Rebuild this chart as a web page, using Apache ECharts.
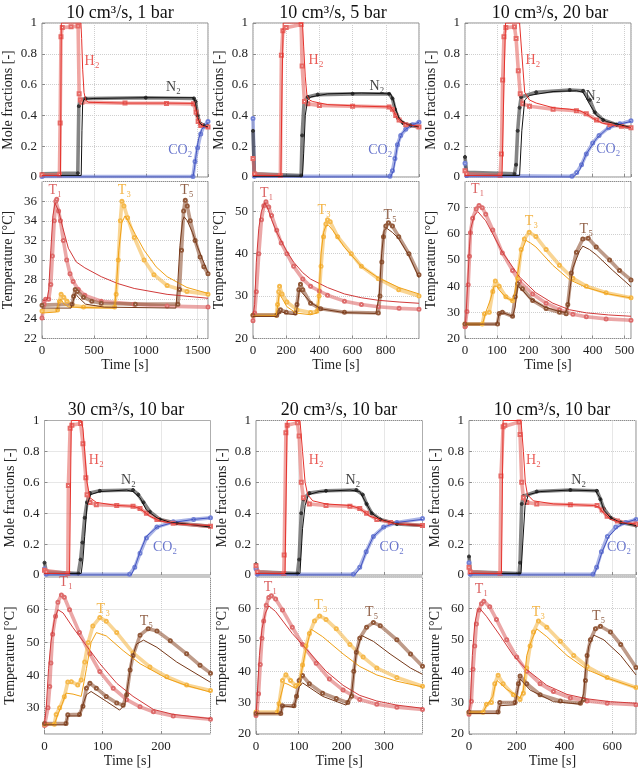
<!DOCTYPE html>
<html>
<head>
<meta charset="utf-8">
<script src="https://cdn.jsdelivr.net/npm/echarts@6/dist/echarts.min.js"></script>
<style>
  html, body { margin: 0; padding: 0; background: #fff; }
  #chart { width: 638px; height: 769px; }
</style>
</head>
<body>
<div id="chart"></div>
<script>
// ---- panel 1: 10 cm3/s, 1 bar ----
const p1_h2_mod = [[0,0.01],[178,0.01],[186,1],[375,1],[382,0.9],[392,0.7],[405,0.55],[420,0.5],[450,0.485],[800,0.48],[1200,0.48],[1460,0.478],[1480,0.45],[1500,0.38],[1520,0.34],[1550,0.33],[1600,0.32]];
const p1_h2_exp = [[0,0.015],[168,0.015],[175,0.35],[183,0.91],[195,0.97],[280,0.975],[348,0.98],[358,0.54],[368,0.5],[385,0.485],[800,0.48],[1200,0.478],[1460,0.475],[1485,0.42],[1505,0.36],[1530,0.335],[1600,0.325]];
const p1_n2_mod = [[0,0.01],[378,0.01],[385,0.3],[392,0.48],[405,0.505],[500,0.51],[1000,0.515],[1460,0.515],[1480,0.48],[1500,0.39],[1520,0.35],[1550,0.335],[1600,0.325]];
const p1_n2_exp = [[0,0.02],[345,0.025],[355,0.46],[368,0.5],[420,0.51],[1000,0.515],[1465,0.51],[1480,0.49],[1500,0.4],[1520,0.35],[1560,0.335],[1600,0.33]];
const p1_co2_mod = [[0,0],[1455,0],[1470,0.06],[1490,0.17],[1510,0.25],[1540,0.31],[1575,0.34],[1600,0.35]];
const p1_co2_exp = [[0,0.003],[1455,0.003],[1475,0.1],[1500,0.19],[1530,0.28],[1560,0.33],[1600,0.36]];
const p1_t1_mod = [[0,25.8],[50,26],[65,27],[85,31],[105,34.5],[125,35.8],[137,36],[160,35],[200,33.3],[254,31.2],[330,29.8],[413,29.2],[571,28.3],[730,27.6],[889,27.1],[1206,26.5],[1600,26.1]];
const p1_t1_exp = [[0,24.1],[20,25.5],[35,26],[65,26],[85,27.5],[100,30.4],[118,34],[133,36],[142,36.2],[160,35],[178,34],[206,32],[238,30],[270,28.6],[300,27.8],[350,27],[413,26.4],[571,25.8],[889,25.5],[1206,25.3],[1600,25.2]];
const p1_t3_mod = [[0,24.6],[140,24.7],[165,25.8],[185,26],[210,25.5],[260,25.2],[700,25.1],[715,27],[740,31],[770,33.8],[800,34.5],[830,34],[900,32.6],[984,31],[1100,29.3],[1206,28.3],[1397,27.2],[1600,26.6]];
const p1_t3_exp = [[0,24.8],[150,24.9],[168,25.8],[184,26.5],[210,26.2],[240,25.8],[286,25.4],[400,25.2],[700,25.2],[715,26.5],[735,30],[755,34],[770,36],[790,35.5],[825,34.3],[889,32.3],[984,30],[1079,28.5],[1206,27.4],[1397,26.8],[1600,26.5]];
const p1_t5_mod = [[0,25.1],[280,25.1],[300,25.8],[320,26.6],[350,26.2],[420,25.5],[600,25.2],[1290,25.1],[1305,27],[1330,31.5],[1355,34],[1370,34.4],[1400,34],[1450,32.8],[1500,31.3],[1550,30],[1600,28.7]];
const p1_t5_exp = [[0,25.4],[290,25.5],[305,26.3],[320,27],[340,26.8],[400,26.2],[480,25.8],[571,25.6],[900,25.5],[1310,25.5],[1325,27],[1345,31],[1365,35],[1381,36.1],[1400,35.5],[1429,34],[1476,32],[1524,30.3],[1560,29.3],[1600,28.6]];

// ---- panel 2: 10 cm3/s, 5 bar ----
const p2_h2_mod = [[0,0.01],[168,0.01],[175,0.6],[182,1],[298,1],[305,0.85],[315,0.65],[325,0.53],[340,0.5],[360,0.49],[451,0.47],[655,0.46],[829,0.455],[845,0.43],[865,0.39],[890,0.36],[930,0.34],[1000,0.33]];
const p2_h2_exp = [[0,0.12],[10,0.02],[165,0.01],[171,0.79],[180,0.95],[200,0.97],[290,0.99],[296,0.72],[310,0.49],[330,0.475],[400,0.465],[600,0.46],[820,0.455],[840,0.44],[860,0.4],[880,0.37],[920,0.34],[1000,0.325]];
const p2_n2_mod = [[0,0.005],[298,0.005],[305,0.15],[315,0.4],[329,0.5],[349,0.52],[450,0.54],[655,0.545],[829,0.54],[845,0.5],[860,0.44],[880,0.38],[910,0.35],[950,0.335],[1000,0.325]];
const p2_n2_exp = [[0,0.3],[8,0.02],[290,0.01],[296,0.27],[308,0.49],[330,0.52],[390,0.535],[600,0.54],[820,0.54],[840,0.51],[855,0.44],[875,0.38],[905,0.35],[950,0.335],[1000,0.325]];
const p2_co2_mod = [[0,0],[829,0],[845,0.04],[855,0.1],[869,0.2],[895,0.28],[920,0.31],[961,0.34],[1000,0.355]];
const p2_co2_exp = [[0,0.38],[8,0.005],[825,0.005],[840,0.04],[855,0.12],[870,0.21],[890,0.27],[920,0.31],[960,0.34],[1000,0.355]];
const p2_t1_mod = [[0,25],[10,28],[20,38],[35,46],[51,50],[71,52],[90,50.5],[112,48],[143,45],[204,40.5],[245,38],[300,35.5],[347,34],[449,32],[551,30.5],[653,29.6],[755,29],[880,28.6],[1000,28.3]];
const p2_t1_exp = [[0,24.2],[10,26],[20,31],[35,40],[51,48],[65,51.3],[78,52.2],[95,51],[112,49],[143,45.5],[170,42.5],[204,40],[245,37],[300,34],[347,32.3],[400,31.2],[449,30.2],[551,28.8],[653,28],[755,27.5],[880,27.1],[1000,26.9]];
const p2_t3_mod = [[0,25.3],[140,25.4],[150,28],[158,30.5],[175,29.5],[204,27.5],[260,26],[347,25.6],[385,26],[398,30],[410,40],[425,45],[439,46.5],[455,46.7],[480,45.5],[551,41.5],[653,37],[755,34.3],[880,32],[1000,30.5]];
const p2_t3_exp = [[0,25.5],[140,25.5],[148,28],[155,31],[160,32.3],[175,30.5],[204,28.6],[265,26.8],[347,26.1],[385,26.4],[398,30],[410,37],[425,44],[439,47],[449,48],[465,47.5],[510,44],[592,40],[653,37],[755,34.1],[878,31.5],[1000,30]];
const p2_t5_mod = [[0,25.2],[140,25.2],[155,26],[170,26.3],[210,25.8],[260,25.6],[268,28],[280,31.5],[290,31.8],[347,28.5],[408,27],[551,26.1],[740,25.9],[760,30],[775,40],[790,45.5],[805,46],[840,45],[878,43.5],[940,39.5],[1000,34.3]];
const p2_t5_exp = [[0,25.5],[143,25.5],[158,26.3],[165,26.8],[200,26.2],[255,26],[265,28],[276,31.5],[286,32.8],[300,31.5],[347,28.3],[408,27],[551,26.2],[755,26],[765,30],[776,38],[786,44],[800,46.5],[816,47.3],[840,46.5],[878,44],[939,40],[1000,35]];

// ---- panel 3: 10 cm3/s, 20 bar ----
const p3_h2_mod = [[0,0.01],[116,0.01],[122,0.6],[127,1],[171,1],[178,0.8],[187,0.55],[202,0.5],[223,0.48],[276,0.45],[328,0.44],[360,0.43],[380,0.41],[401,0.38],[430,0.35],[454,0.34],[485,0.33],[520,0.32]];
const p3_h2_exp = [[0,0.04],[5,0.02],[110,0.01],[114,0.15],[118,0.63],[122,0.91],[128,0.97],[155,0.975],[160,0.9],[167,0.69],[173,0.54],[181,0.475],[202,0.46],[276,0.44],[349,0.43],[380,0.41],[412,0.37],[454,0.34],[490,0.33],[520,0.32]];
const p3_n2_mod = [[0,0.01],[171,0.01],[178,0.3],[187,0.5],[202,0.53],[276,0.555],[349,0.56],[370,0.55],[391,0.47],[412,0.4],[443,0.36],[485,0.34],[520,0.32]];
const p3_n2_exp = [[0,0.13],[5,0.03],[155,0.02],[160,0.08],[165,0.3],[171,0.45],[176,0.52],[223,0.55],[328,0.565],[370,0.56],[391,0.5],[407,0.42],[433,0.37],[475,0.34],[520,0.32]];
const p3_co2_mod = [[0,0],[339,0],[350,0.02],[360,0.05],[380,0.15],[412,0.25],[443,0.31],[475,0.34],[520,0.36]];
const p3_co2_exp = [[0,0.09],[5,0.01],[335,0.005],[350,0.03],[365,0.08],[380,0.15],[400,0.22],[420,0.27],[450,0.32],[485,0.345],[520,0.365]];
const p3_t1_mod = [[0,25],[2,26],[8,40],[14,55],[18,62],[29,67],[40,68.5],[65,65],[117,53],[171,43.5],[222,37.5],[275,33.5],[327,31],[380,29.8],[450,29],[520,28.5]];
const p3_t1_exp = [[0,24.5],[2,25],[6,30.3],[10,40.5],[14,51.4],[17,60.4],[24,66],[35,69.5],[44,70.8],[54,70],[65,67.5],[87,61.5],[117,52.7],[149,46],[171,41.8],[212,37],[254,33.5],[296,31],[338,29.3],[380,28.3],[442,27.5],[520,27]];
const p3_t3_mod = [[0,25.5],[55,25.5],[65,30],[80,35],[91,40],[100,40],[107,38.5],[130,35.5],[149,34.5],[158,38],[165,45],[176,53],[191,57.5],[205,56.5],[222,55],[275,48],[327,42.5],[380,39.5],[450,37],[520,35.5]];
const p3_t3_exp = [[0,25.5],[54,25.5],[61,29.5],[76,30],[87,38],[95,42],[107,40],[128,36],[149,34.4],[157,36],[165,43],[176,54],[186,58],[201,60.6],[222,59],[254,54],[296,48],[338,43],[380,40],[442,37.5],[520,35.6]];
const p3_t5_mod = [[0,25.5],[100,25.5],[107,29.5],[120,29.8],[149,28.5],[157,32],[165,40],[180,38.5],[201,35.5],[250,32],[296,30.3],[315,30],[322,32],[330,40],[338,47],[359,53.5],[369,55.3],[390,54],[411,52],[463,46],[520,39.8]];
const p3_t5_exp = [[0,25.5],[102,25.5],[107,29.6],[117,30],[149,28.5],[157,36],[165,40.9],[180,39],[212,34.5],[254,31.5],[296,30],[317,29.5],[322,33],[333,45],[349,53],[369,58],[386,58.3],[411,55],[453,50],[484,46],[520,42.4]];

// ---- panel 4: 30 cm3/s, 10 bar ----
const p4_h2_mod = [[0,0.01],[43,0.01],[46,1],[63,1],[66,0.95],[69,0.8],[73,0.6],[78,0.5],[89,0.47],[124,0.45],[152,0.445],[164,0.43],[181,0.38],[198,0.35],[227,0.33],[285,0.32]];
const p4_h2_exp = [[0,0.03],[3,0.02],[40,0.01],[41,0.58],[44,0.95],[47,0.97],[62,0.98],[66,0.85],[71,0.63],[73,0.52],[78,0.47],[89,0.455],[124,0.45],[152,0.445],[164,0.43],[175,0.4],[193,0.36],[221,0.335],[285,0.315]];
const p4_n2_mod = [[0,0.01],[63,0.01],[66,0.1],[69,0.25],[73,0.45],[79,0.52],[95,0.54],[141,0.55],[152,0.54],[164,0.5],[175,0.42],[193,0.37],[216,0.34],[244,0.33],[285,0.31]];
const p4_n2_exp = [[0,0.08],[3,0.02],[58,0.01],[62,0.1],[65,0.21],[69,0.37],[73,0.47],[78,0.53],[95,0.545],[152,0.55],[161,0.52],[170,0.47],[181,0.41],[198,0.36],[227,0.335],[285,0.315]];
const p4_co2_mod = [[0,0],[149,0],[155,0.05],[164,0.15],[175,0.25],[193,0.31],[221,0.34],[256,0.36],[285,0.37]];
const p4_co2_exp = [[0,0.04],[3,0.005],[146,0.005],[155,0.05],[164,0.14],[175,0.24],[193,0.31],[221,0.345],[256,0.36],[285,0.37]];
const p4_t1_mod = [[0,25],[3,30],[7,42],[11,50],[17,57],[23,60],[32,59],[49,54.5],[72,49],[95,43.5],[124,37.5],[152,33.5],[187,29.5],[221,28],[285,26.7]];
const p4_t1_exp = [[0,24.6],[3,25],[6,30],[9,36.5],[11,43.7],[14,52.5],[19,58],[23,62.3],[29,64.5],[34,63.8],[43,60],[60,53],[78,46.5],[95,41.1],[118,36],[141,32.5],[164,30.3],[187,28.8],[221,27.5],[285,26.5]];
const p4_t3_mod = [[0,25],[17,25],[23,28],[30,31],[37,34.5],[49,34.2],[63,33.5],[68,38],[72,42],[80,50],[89,53],[106,52],[135,47.5],[164,43.5],[210,39],[244,36.8],[285,34.8]];
const p4_t3_exp = [[0,25],[17,25],[20,28],[26,30],[34,33.4],[40,37.9],[46,38],[57,37],[63,38.5],[69,44],[75,50],[83,55],[95,57.6],[106,56.5],[124,53],[152,46.8],[181,42.5],[210,39.5],[244,37],[285,35.3]];
const p4_t5_mod = [[0,24.8],[37,24.8],[40,27.5],[60,27.5],[66,31],[72,34],[80,35],[106,32],[129,29.3],[138,31],[144,38],[150,45],[158,49.5],[170,50.7],[193,48.5],[227,44],[285,37.8]];
const p4_t5_exp = [[0,25.2],[37,25.2],[40,27.9],[60,28],[66,30.5],[72,36],[78,37.5],[89,36],[106,33.5],[124,31.5],[135,30.8],[141,34],[147,41.6],[152,46],[164,52.2],[178,54.2],[193,53.5],[216,50.5],[244,46.5],[267,43],[285,40.6]];

// ---- panel 5: 20 cm3/s, 10 bar ----
const p5_h2_mod = [[0,0.01],[68,0.01],[73,1],[103,1],[109,0.8],[115,0.6],[121,0.52],[133,0.48],[164,0.46],[220,0.45],[243,0.43],[267,0.38],[299,0.35],[330,0.33],[390,0.32]];
const p5_h2_exp = [[0,0.06],[3,0.02],[65,0.01],[66,0.13],[70,0.92],[73,0.97],[97,0.985],[101,0.9],[106,0.6],[111,0.5],[125,0.46],[164,0.45],[220,0.445],[243,0.43],[259,0.4],[283,0.36],[315,0.34],[390,0.32]];
const p5_n2_mod = [[0,0.01],[103,0.01],[109,0.3],[115,0.45],[123,0.52],[148,0.54],[220,0.55],[243,0.54],[255,0.48],[271,0.4],[291,0.36],[330,0.33],[390,0.32]];
const p5_n2_exp = [[0,0.07],[3,0.02],[97,0.01],[101,0.1],[106,0.4],[111,0.49],[125,0.53],[164,0.545],[235,0.55],[250,0.52],[259,0.46],[271,0.4],[291,0.36],[330,0.33],[390,0.32]];
const p5_co2_mod = [[0,0],[231,0],[245,0.05],[258,0.15],[275,0.25],[299,0.31],[330,0.34],[390,0.36]];
const p5_co2_exp = [[0,0.04],[3,0.005],[228,0.005],[243,0.05],[258,0.15],[275,0.25],[299,0.31],[330,0.34],[390,0.365]];
const p5_t1_mod = [[0,26],[2,30],[8,45],[14,53.5],[22,58.5],[30,60.8],[46,59],[85,52],[125,46],[164,40],[204,35.5],[243,32.3],[283,30.5],[330,29.2],[390,28.2]];
const p5_t1_exp = [[0,25.9],[2,27],[6,32.8],[10,42.1],[14,50.5],[18,56],[24,61],[30,63.5],[36,64],[46,63],[62,59.5],[85,54],[109,48.5],[141,42.5],[172,37.5],[204,34],[243,31],[283,29.5],[330,28.5],[390,27.8]];
const p5_t3_mod = [[0,26.5],[50,26.5],[54,30],[66,36.3],[75,35.8],[93,34.5],[101,36],[117,47],[129,53.4],[156,51],[204,45.5],[243,41.5],[283,38.8],[330,36.8],[390,35]];
const p5_t3_exp = [[0,27],[50,27],[54,29.6],[62,37],[70,38.9],[81,37],[93,35.4],[101,36],[109,42],[117,48],[125,52],[137,56],[149,57.6],[164,56.5],[188,53.5],[220,48.5],[251,44.5],[283,41],[330,38],[390,35.2]];
const p5_t5_mod = [[0,26.5],[58,26.5],[62,29],[89,28.5],[101,35],[109,36.3],[156,32],[211,29.2],[224,33],[235,46],[247,51.4],[275,49.5],[314,45.5],[362,41],[390,39]];
const p5_t5_exp = [[0,26.5],[58,26.5],[62,29],[89,29],[95,32],[101,37],[109,38.6],[125,36],[156,33],[188,31.3],[215,30],[224,32],[229,40],[235,46],[243,50.5],[259,54],[275,55.5],[291,54.5],[330,50],[362,45.5],[390,41.6]];

// ---- panel 6: 10 cm3/s, 10 bar ----
const p6_h2_mod = [[0,0.01],[136,0.01],[143,1],[218,1],[228,0.8],[236,0.6],[245,0.52],[270,0.48],[354,0.46],[523,0.45],[544,0.44],[565,0.4],[594,0.36],[636,0.34],[700,0.33]];
const p6_h2_exp = [[0,0.05],[5,0.02],[130,0.01],[134,0.64],[143,0.96],[150,0.97],[210,0.99],[214,0.91],[221,0.6],[228,0.5],[242,0.47],[284,0.46],[425,0.455],[537,0.45],[558,0.42],[579,0.38],[622,0.35],[700,0.33]];
const p6_n2_mod = [[0,0.01],[218,0.01],[225,0.2],[235,0.45],[249,0.52],[298,0.54],[425,0.55],[530,0.545],[549,0.5],[565,0.42],[594,0.37],[636,0.34],[700,0.32]];
const p6_n2_exp = [[0,0.12],[5,0.02],[210,0.01],[214,0.08],[221,0.46],[228,0.51],[284,0.54],[425,0.55],[536,0.545],[551,0.49],[565,0.43],[594,0.37],[636,0.34],[700,0.32]];
const p6_co2_mod = [[0,0],[523,0],[537,0.05],[558,0.15],[586,0.25],[622,0.31],[657,0.34],[700,0.36]];
const p6_co2_exp = [[0,0.08],[5,0.005],[520,0.005],[535,0.05],[555,0.15],[580,0.25],[615,0.31],[657,0.34],[700,0.36]];
const p6_t1_mod = [[0,26.5],[6,30],[14,45],[24,55],[34,59],[45,60],[73,57.5],[129,51.5],[186,45],[242,40.5],[326,35.5],[411,32.6],[495,31.2],[593,30.3],[700,29.8]];
const p6_t1_exp = [[0,26.3],[10,30.4],[17,40.6],[24,48],[31,55],[42,59.5],[52,61.5],[62,62.3],[87,60.5],[115,56.5],[158,50],[200,44.5],[242,40],[298,36],[354,33.5],[425,31.5],[495,30.5],[579,29.8],[700,29.3]];
const p6_t3_mod = [[0,27],[59,27],[73,29],[100,32],[108,35],[118,37],[140,35.5],[157,34.3],[214,31.5],[228,34],[242,45],[263,50],[284,53.5],[326,51],[411,45],[495,40.5],[579,37.8],[700,34.7]];
const p6_t3_exp = [[0,26.9],[59,26.9],[73,29.5],[94,30],[108,36],[122,38.7],[143,36],[186,32.5],[214,31],[228,33],[242,41],[256,48],[270,52.5],[291,56],[326,54],[383,49.5],[439,45],[495,41.5],[579,38],[700,34.8]];
const p6_t5_mod = [[0,26.5],[122,26.5],[129,29],[193,29.3],[207,35],[214,37.5],[256,34],[354,30.3],[467,29.5],[481,33],[488,40],[502,48],[523,51.5],[565,50],[636,45],[700,38.8]];
const p6_t5_exp = [[0,27],[122,27],[129,30],[193,30],[207,36],[214,38.5],[242,36],[298,32.5],[383,30.5],[467,29.8],[481,31],[488,37],[495,45],[509,50],[530,53.5],[551,54.3],[593,52.5],[636,48.5],[700,41.2]];

// panel titles and axis ranges
const titles = ['10 cm³/s, 1 bar', '10 cm³/s, 5 bar', '10 cm³/s, 20 bar',
                '30 cm³/s, 10 bar', '20 cm³/s, 10 bar', '10 cm³/s, 10 bar'];
const timeMax = [1600, 1000, 520, 285, 390, 700];
const timeStep = [500, 200, 100, 100, 100, 200];
const tempMin = [22, 20, 20, 22, 20, 20];
const tempMax = [38, 57, 80, 70, 70, 70];
const tempStep = [2, 10, 10, null, 10, 10];

const FONT = 'Liberation Serif';
const C = {
  h2: '#e5322c', h2e: '#e66a66',
  n2: '#111111', n2e: '#333333',
  co2: '#4354c0', co2e: '#7282d6',
  t1: '#d13a3a', t1e: '#dd6c6c',
  t3: '#f0a116', t3e: '#f5b94c',
  t5: '#76391a', t5e: '#92593a'
};

const moleData = [
  [p1_h2_mod, p1_h2_exp, p1_n2_mod, p1_n2_exp, p1_co2_mod, p1_co2_exp],
  [p2_h2_mod, p2_h2_exp, p2_n2_mod, p2_n2_exp, p2_co2_mod, p2_co2_exp],
  [p3_h2_mod, p3_h2_exp, p3_n2_mod, p3_n2_exp, p3_co2_mod, p3_co2_exp],
  [p4_h2_mod, p4_h2_exp, p4_n2_mod, p4_n2_exp, p4_co2_mod, p4_co2_exp],
  [p5_h2_mod, p5_h2_exp, p5_n2_mod, p5_n2_exp, p5_co2_mod, p5_co2_exp],
  [p6_h2_mod, p6_h2_exp, p6_n2_mod, p6_n2_exp, p6_co2_mod, p6_co2_exp]
];
const tempData = [
  [p1_t1_mod, p1_t1_exp, p1_t3_mod, p1_t3_exp, p1_t5_mod, p1_t5_exp],
  [p2_t1_mod, p2_t1_exp, p2_t3_mod, p2_t3_exp, p2_t5_mod, p2_t5_exp],
  [p3_t1_mod, p3_t1_exp, p3_t3_mod, p3_t3_exp, p3_t5_mod, p3_t5_exp],
  [p4_t1_mod, p4_t1_exp, p4_t3_mod, p4_t3_exp, p4_t5_mod, p4_t5_exp],
  [p5_t1_mod, p5_t1_exp, p5_t3_mod, p5_t3_exp, p5_t5_mod, p5_t5_exp],
  [p6_t1_mod, p6_t1_exp, p6_t3_mod, p6_t3_exp, p6_t5_mod, p6_t5_exp]
];

// where the curve names sit, in each panel's data units
const moleLabelSpots = [
  [[483, 0.75], [1267, 0.58], [1333, 0.17]],
  [[380, 0.76], [747, 0.59], [767, 0.17]],
  [[213, 0.76], [401, 0.525], [449, 0.18]],
  [[89, 0.745], [144, 0.615], [207, 0.18]],
  [[141, 0.745], [227, 0.615], [318, 0.18]],
  [[270, 0.745], [460, 0.615], [629, 0.18]]
];
const tempLabelSpots = [
  [[127, 37.1], [794, 37.1], [1397, 37.1]],
  [[82, 54.2], [429, 50.2], [827, 49]],
  [[40, 77], [208, 64.9], [380, 61.7]],
  [[37, 68.4], [101, 60.2], [175, 56.6]],
  [[34, 66.7], [152, 60.9], [271, 58.7]],
  [[52, 66], [291, 58.6], [544, 57.6]]
];

// layout (px)
const cols = [[40, 208], [253, 419], [465, 631], [44.5, 210.5], [256, 422.5], [469, 636]];
const titleX = [120, 333, 550, 126, 339, 552];

const chart = echarts.init(document.getElementById('chart'), null, {renderer: 'canvas'});
const grid = [], xAxis = [], yAxis = [], series = [], title = [];
const gridLine = {show: true, lineStyle: {color: '#cfcfcf', type: 'dotted', width: 1}};
const tick = {show: true, inside: true, length: 3, lineStyle: {color: '#8c8c8c'}};
const lblStyle = {fontFamily: FONT, fontSize: 13, color: '#222'};

function expSeries(data, color, symbol, xi) {
  return {
    type: 'line', xAxisIndex: xi, yAxisIndex: xi, data: data,
    symbol: symbol, symbolSize: 3, showSymbol: true,
    lineStyle: {color: color, width: 3.6, opacity: 0.6},
    itemStyle: {color: color, borderColor: color, borderWidth: 1},
    silent: true, z: 2
  };
}
function modSeries(data, color, xi) {
  return {
    type: 'line', xAxisIndex: xi, yAxisIndex: xi, data: data,
    symbol: 'none', showSymbol: false,
    lineStyle: {color: color, width: 1},
    silent: true, z: 3
  };
}
function labelSeries(spots, names, colors, xi) {
  return {
    type: 'scatter', xAxisIndex: xi, yAxisIndex: xi, symbolSize: 0, silent: true, z: 5,
    data: spots.map((s, k) => ({name: names[k], value: s,
      label: {show: true, position: 'inside', formatter: '{b}', fontFamily: FONT, fontSize: 14, color: colors[k]}}))
  };
}

for (let i = 0; i < 6; i++) {
  const topRow = i < 3;
  const [l, r] = cols[i];
  const mRow = topRow ? [23, 177] : [420.5, 575];
  const tRow = topRow ? [181.5, 338.5] : [577, 734];
  const xm = 2 * i, xt = 2 * i + 1;

  title.push({
    text: titles[i], left: titleX[i], top: topRow ? 4 : 401, textAlign: 'center', padding: 0,
    textStyle: {fontFamily: FONT, fontSize: 18, fontWeight: 'normal', color: '#111'}
  });

  [mRow, tRow].forEach(rr => grid.push({
    left: l, top: rr[0], width: r - l, height: rr[1] - rr[0],
    show: true, borderColor: '#8c8c8c', borderWidth: 1, containLabel: false
  }));

  // mole fraction axes
  xAxis.push({
    gridIndex: xm, type: 'value', min: 0, max: timeMax[i], interval: timeStep[i],
    axisLine: {show: false}, axisTick: tick, axisLabel: {show: false}, splitLine: gridLine
  });
  yAxis.push({
    gridIndex: xm, type: 'value', min: 0, max: 1, interval: 0.2,
    name: 'Mole fractions [-]', nameLocation: 'middle', nameGap: 27, nameRotate: 90,
    nameTextStyle: {fontFamily: FONT, fontSize: 14, color: '#222'},
    axisLine: {show: false}, axisTick: tick, splitLine: gridLine,
    axisLabel: Object.assign({margin: 5}, lblStyle)
  });
  // temperature axes
  xAxis.push({
    gridIndex: xt, type: 'value', min: 0, max: timeMax[i], interval: timeStep[i],
    name: 'Time [s]', nameLocation: 'middle', nameGap: 20,
    nameTextStyle: {fontFamily: FONT, fontSize: 14, color: '#222'},
    axisLine: {show: false}, axisTick: tick, splitLine: gridLine,
    axisLabel: Object.assign({margin: 6, showMaxLabel: false, formatter: v => String(v)}, lblStyle)
  });
  const ty = {
    gridIndex: xt, type: 'value', min: tempMin[i], max: tempMax[i],
    name: 'Temperature [°C]', nameLocation: 'middle', nameGap: 27, nameRotate: 90,
    nameTextStyle: {fontFamily: FONT, fontSize: 14, color: '#222'},
    axisLine: {show: false}, axisTick: tick, splitLine: gridLine,
    axisLabel: Object.assign({margin: 5, showMaxLabel: false,
      showMinLabel: tempMin[i] % 10 === 0 || tempStep[i] === 2}, lblStyle)
  };
  if (tempStep[i]) ty.interval = tempStep[i];
  yAxis.push(ty);

  const md = moleData[i], td = tempData[i];
  series.push(
    expSeries(md[5], C.co2e, 'emptyCircle', xm),
    expSeries(md[3], C.n2e, 'circle', xm),
    expSeries(md[1], C.h2e, 'emptyRect', xm),
    modSeries(md[4], C.co2, xm),
    modSeries(md[2], C.n2, xm),
    modSeries(md[0], C.h2, xm),
    labelSeries(moleLabelSpots[i], ['H₂', 'N₂', 'CO₂'], [C.h2, '#111', C.co2], xm),
    expSeries(td[1], C.t1e, 'emptyCircle', xt),
    expSeries(td[3], C.t3e, 'emptyCircle', xt),
    expSeries(td[5], C.t5e, 'emptyCircle', xt),
    modSeries(td[0], C.t1, xt),
    modSeries(td[2], C.t3, xt),
    modSeries(td[4], C.t5, xt),
    labelSeries(tempLabelSpots[i], ['T₁', 'T₃', 'T₅'], [C.t1, C.t3, C.t5], xt)
  );
}

chart.setOption({
  animation: false,
  backgroundColor: '#fff',
  title: title,
  grid: grid,
  xAxis: xAxis,
  yAxis: yAxis,
  series: series
});
</script>
</body>
</html>
